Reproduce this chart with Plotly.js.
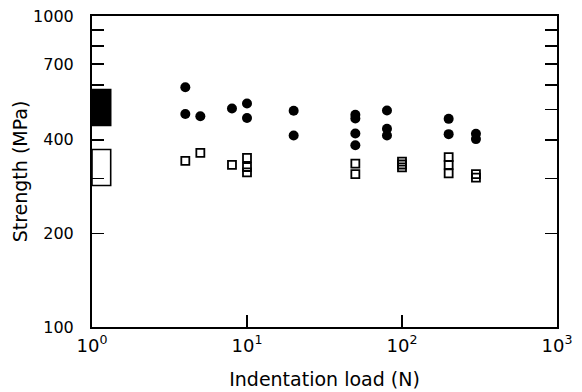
<!DOCTYPE html>
<html><head><meta charset="utf-8">
<script src="https://cdn.plot.ly/plotly-3.0.1.min.js"></script>
<style>html,body{margin:0;padding:0;background:#fff}#chart{width:582px;height:392px}</style>
</head><body><div id="chart"></div>
<script>
// Filled circles
const circleLoads = [4, 4, 5, 8, 10, 10, 20, 20, 50, 50, 50, 50, 80, 80, 80, 200, 200, 300, 300];
const circleStrength = [590, 484, 476, 504, 523, 470, 496, 413, 481, 468, 419, 384, 497, 434, 413, 467, 417, 418, 402];
// Open squares
const squareLoads = [4, 5, 8, 10, 10, 10, 50, 50, 100, 100, 100, 200, 200, 200, 300, 300];
const squareStrength = [342, 363, 332, 350, 327, 314, 335, 310, 340, 333, 326, 352, 332, 312, 310, 302];
// Strength bands at the left edge (low, high)
const filledBand = [445, 580];
const openBand = [285, 372];
const bandLoad = [1, 1.32];

const yTickVals = [100, 200, 300, 400, 500, 600, 700, 800, 900, 1000];
const yTickText = ['100', '200', '', '400', '', '', '700', '', '', '1000'];
const xTickVals = [1, 10, 100, 1000];
const xTickText = ['10<sup>0</sup>', '10<sup>1</sup>', '10<sup>2</sup>', '10<sup>3</sup>'];

function band(b, fill) {
  return {
    x: [bandLoad[0], bandLoad[1], bandLoad[1], bandLoad[0], bandLoad[0]],
    y: [b[0], b[0], b[1], b[1], b[0]],
    mode: 'lines', fill: 'toself', fillcolor: fill,
    line: {color: '#000', width: 1.6}, hoverinfo: 'skip', showlegend: false
  };
}

const traces = [
  band(filledBand, '#000'),
  band(openBand, '#fff'),
  {x: circleLoads, y: circleStrength, mode: 'markers', showlegend: false,
   marker: {symbol: 'circle', size: 10, color: '#000'}},
  {x: squareLoads, y: squareStrength, mode: 'markers', showlegend: false,
   marker: {symbol: 'square-open', size: 8, color: '#000', line: {width: 1.8, color: '#000'}}}
];

const font = {family: 'DejaVu Sans, sans-serif', color: '#000', size: 16};

const layout = {
  width: 582, height: 392,
  margin: {l: 92, r: 25, t: 16, b: 65},
  paper_bgcolor: '#fff', plot_bgcolor: '#fff',
  font: font,
  xaxis: {
    type: 'log', range: [0, 3],
    tickmode: 'array', tickvals: xTickVals, ticktext: xTickText,
    ticks: 'inside', ticklen: 12, tickwidth: 1.5, tickcolor: '#000',
    showline: true, linecolor: '#000', linewidth: 2, mirror: true,
    showgrid: false, zeroline: false,
    tickfont: {size: 18}, ticklabelstandoff: 1,
    title: {text: 'Indentation load (N)', font: {size: 19}, standoff: 18}
  },
  yaxis: {
    type: 'log', range: [2, 3],
    tickmode: 'array', tickvals: yTickVals, ticktext: yTickText,
    ticks: 'inside', ticklen: 12, tickwidth: 1.5, tickcolor: '#000',
    showline: true, linecolor: '#000', linewidth: 2, mirror: 'ticks',
    showgrid: false, zeroline: false,
    tickfont: {size: 16}, ticklabelstandoff: 13,
    title: {text: 'Strength (MPa)', font: {size: 19}, standoff: 0}
  }
};

Plotly.newPlot('chart', traces, layout, {displayModeBar: false, staticPlot: true});
</script></body></html>
